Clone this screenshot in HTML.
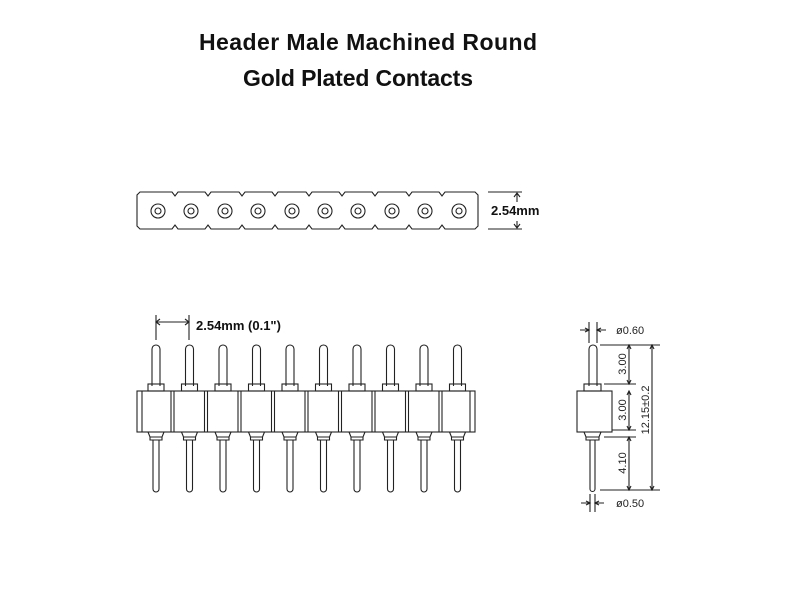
<!DOCTYPE html>
<html><head><style>body{margin:0;background:#fff}svg{display:block}</style></head><body>
<svg width="800" height="600" xmlns="http://www.w3.org/2000/svg" font-family="Liberation Sans, sans-serif">
<text x="368" y="50" font-size="23" font-weight="bold" text-anchor="middle" fill="#111" textLength="338">Header Male Machined Round</text>
<text x="358" y="86" font-size="23" font-weight="bold" text-anchor="middle" fill="#111" textLength="230">Gold Plated Contacts</text>
<g stroke="#222" fill="none" stroke-width="1.1">
<path d="M140,192 L172,192 L175,196 L178,192 L205,192 L208,196 L211,192 L239,192 L242,196 L245,192 L272,192 L275,196 L278,192 L306,192 L309,196 L312,192 L339,192 L342,196 L345,192 L372,192 L375,196 L378,192 L406,192 L409,196 L412,192 L439,192 L442,196 L445,192 L475,192 L478,195 L478,226 L475,229 L445,229 L442,225 L439,229 L412,229 L409,225 L406,229 L378,229 L375,225 L372,229 L345,229 L342,225 L339,229 L312,229 L309,225 L306,229 L278,229 L275,225 L272,229 L245,229 L242,225 L239,229 L211,229 L208,225 L205,229 L178,229 L175,225 L172,229 L140,229 L137,226 L137,195 Z"/>
<circle cx="158" cy="211" r="7"/><circle cx="158" cy="211" r="3"/>
<circle cx="191" cy="211" r="7"/><circle cx="191" cy="211" r="3"/>
<circle cx="225" cy="211" r="7"/><circle cx="225" cy="211" r="3"/>
<circle cx="258" cy="211" r="7"/><circle cx="258" cy="211" r="3"/>
<circle cx="292" cy="211" r="7"/><circle cx="292" cy="211" r="3"/>
<circle cx="325" cy="211" r="7"/><circle cx="325" cy="211" r="3"/>
<circle cx="358" cy="211" r="7"/><circle cx="358" cy="211" r="3"/>
<circle cx="392" cy="211" r="7"/><circle cx="392" cy="211" r="3"/>
<circle cx="425" cy="211" r="7"/><circle cx="425" cy="211" r="3"/>
<circle cx="459" cy="211" r="7"/><circle cx="459" cy="211" r="3"/>
<path d="M488,192 L522,192 M488,229 L522,229 M517,193 L517,202 M517,221 L517,228 M514,197 L517,193 L520,197 M514,224 L517,228 L520,224"/>
<path d="M156,315 L156,340 M189,315 L189,340 M156,322 L189,322 M160,319 L156,322 L160,325 M185,319 L189,322 L185,325"/>
<rect x="137" y="391" width="338" height="41"/>
<path d="M142,391 L142,432 M470,391 L470,432"/>
<path d="M589,386 L589,349 A4,4 0 0 1 597,349 L597,386"/>
<rect x="584" y="384" width="17" height="7"/>
<rect x="577" y="391" width="35" height="41"/>
<path d="M584,432 L586,437 L599,437 L601,432 M586,437 L586,440 L599,440 L599,437"/>
<path d="M590,440 L590,489 A2.5,2.5 0 0 0 595,489 L595,440"/>
<path d="M589,322 L589,343 M597,322 L597,343 M580,330 L589,330 M597,330 L606,330 M585,328 L589,330 L585,332 M601,328 L597,330 L601,332"/>
<path d="M590,494 L590,512 M595,494 L595,512 M581,503 L590,503 M595,503 L604,503 M586,501 L590,503 L586,505 M599,501 L595,503 L599,505"/>
<path d="M600,345 L660,345 M604,384 L636,384 M612,430 L636,430 M604,437 L636,437 M600,490 L660,490"/>
<path d="M629,345 L629,384 M629,391 L629,430 M629,437 L629,490 M652,345 L652,490"/>
<path d="M627,349 L629,345 L631,349 M627,380 L629,384 L631,380 M627,395 L629,391 L631,395 M627,426 L629,430 L631,426 M627,441 L629,437 L631,441 M627,486 L629,490 L631,486 M650,349 L652,345 L654,349 M650,486 L652,490 L654,486"/>
</g>
<g font-size="11" fill="#222">
<text x="616" y="334">ø0.60</text>
<text x="616" y="507">ø0.50</text>
<text transform="translate(626,364) rotate(-90)" text-anchor="middle">3.00</text>
<text transform="translate(626,410) rotate(-90)" text-anchor="middle">3.00</text>
<text transform="translate(626,463) rotate(-90)" text-anchor="middle">4.10</text>
<text transform="translate(649,410) rotate(-90)" text-anchor="middle">12.15±0.2</text>
</g>
<text x="491" y="215" font-size="13" font-weight="bold" fill="#111">2.54mm</text>
<text x="196" y="330" font-size="13" font-weight="bold" fill="#111">2.54mm (0.1")</text>
<g stroke="#222" fill="none" stroke-width="1.1">
<g id="p0"><path d="M152,386 L152,349 A4,4 0 0 1 160,349 L160,386"/><rect x="148" y="384" width="16" height="7"/><path d="M148,432 L150,437 L162,437 L164,432 M150,437 L150,440 L162,440 L162,437"/><path d="M153,440 L153,489 A3,3 0 0 0 159,489 L159,440"/></g>
<use href="#p0" x="33.5"/><use href="#p0" x="67"/><use href="#p0" x="100.5"/><use href="#p0" x="134"/><use href="#p0" x="167.5"/><use href="#p0" x="201"/><use href="#p0" x="234.5"/><use href="#p0" x="268"/><use href="#p0" x="301.5"/>
<g id="d0"><path d="M171,391 L171,432 M174,391 L174,432"/></g>
<use href="#d0" x="33.5"/><use href="#d0" x="67"/><use href="#d0" x="100.5"/><use href="#d0" x="134"/><use href="#d0" x="167.5"/><use href="#d0" x="201"/><use href="#d0" x="234.5"/><use href="#d0" x="268"/>
</g>
</svg>
</body></html>
